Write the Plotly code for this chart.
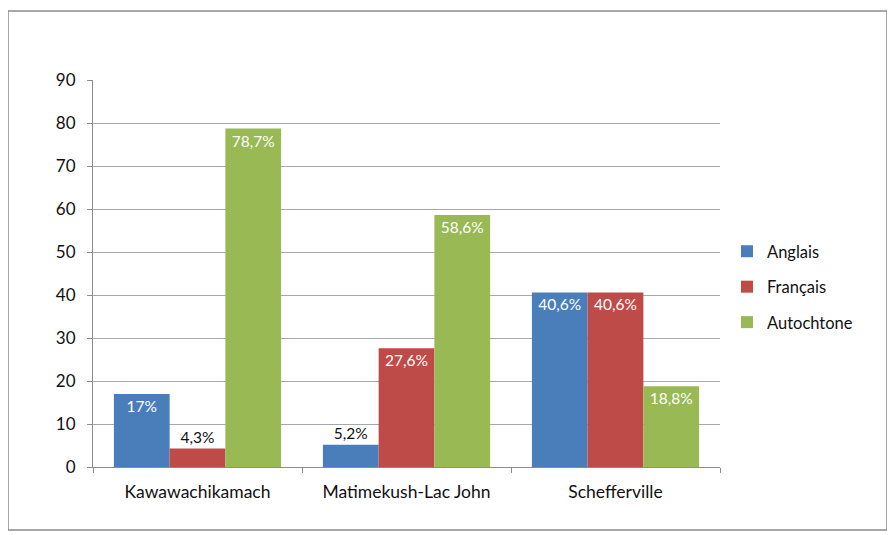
import plotly.graph_objects as go

categories = ["Kawawachikamach", "Matimekush-Lac John", "Schefferville"]
series_names = ["Anglais", "Français", "Autochtone"]
anglais = [17, 5.2, 40.6]
francais = [4.3, 27.6, 40.6]
autochtone = [78.7, 58.6, 18.8]
labels_anglais = ["17%", "5,2%", "40,6%"]
labels_francais = ["4,3%", "27,6%", "40,6%"]
labels_autochtone = ["78,7%", "58,6%", "18,8%"]
y_ticks = [0, 10, 20, 30, 40, 50, 60, 70, 80, 90]

colors = ["#4A7EBB", "#BE4B48", "#98B954"]
FONT = "Lato, Carlito, 'Open Sans', sans-serif"

# page body has an 8px margin: plot area wanted at page x 93..720, y 80..467
L, T, W, H = 85, 72, 627, 387

fig = go.Figure()
for name, vals, labs, col, grp in zip(series_names, [anglais, francais, autochtone],
                                      [labels_anglais, labels_francais, labels_autochtone], colors,
                                      ["g1", "g2", "g3"]):
    positions = []
    tcolors = []
    for v in vals:
        if v < 8:
            positions.append("outside")
            tcolors.append("#111111")
        else:
            positions.append("inside")
            tcolors.append("white")
    fig.add_trace(go.Bar(
        x=categories, y=vals, name=name, text=labs,
        textposition=positions, insidetextanchor="end",
        textfont=dict(family=FONT, size=15.5, color=tcolors),
        outsidetextfont=dict(family=FONT, size=15.5, color="#111111"),
        marker=dict(color=col, line=dict(width=0)),
        cliponaxis=False, legendgroup=grp,
    ))

fig.update_layout(
    width=895, height=535,
    margin=dict(l=L, r=895 - L - W, t=T, b=535 - T - H),
    paper_bgcolor="white", plot_bgcolor="white",
    barmode="group", bargap=0.2, bargroupgap=0,
    font=dict(family=FONT, size=17, color="#111111"),
    legend=dict(x=(727 - 93) / W, xanchor="left", y=(467 - 287) / H, yanchor="middle",
                font=dict(family=FONT, size=16.5, color="#111111"),
                traceorder="grouped", tracegroupgap=11,
                bgcolor="rgba(0,0,0,0)", itemwidth=30),
    xaxis=dict(showgrid=False, showline=True, linecolor="#8c8c8c", linewidth=1,
               ticks="outside", tickson="boundaries", ticklen=5, tickcolor="#8c8c8c",
               ticklabelstandoff=9,
               tickfont=dict(family=FONT, size=17.5, color="#111111")),
    yaxis=dict(range=[0, 90], tickvals=y_ticks, showgrid=True, gridcolor="#a8a8a8",
               gridwidth=1, showline=True, linecolor="#8c8c8c", linewidth=1,
               ticks="outside", ticklen=5, tickcolor="#8c8c8c", zeroline=False,
               ticklabelstandoff=8,
               tickfont=dict(family=FONT, size=17, color="#111111")),
    shapes=[dict(type="rect", xref="paper", yref="paper",
                 x0=(8 - 93) / W, x1=(887 - 93) / W,
                 y0=(467 - 530) / H, y1=(467 - 11) / H,
                 line=dict(color="#8a8a8a", width=1.5), fillcolor="rgba(0,0,0,0)", layer="below")],
)

fig.write_html("out.html")
